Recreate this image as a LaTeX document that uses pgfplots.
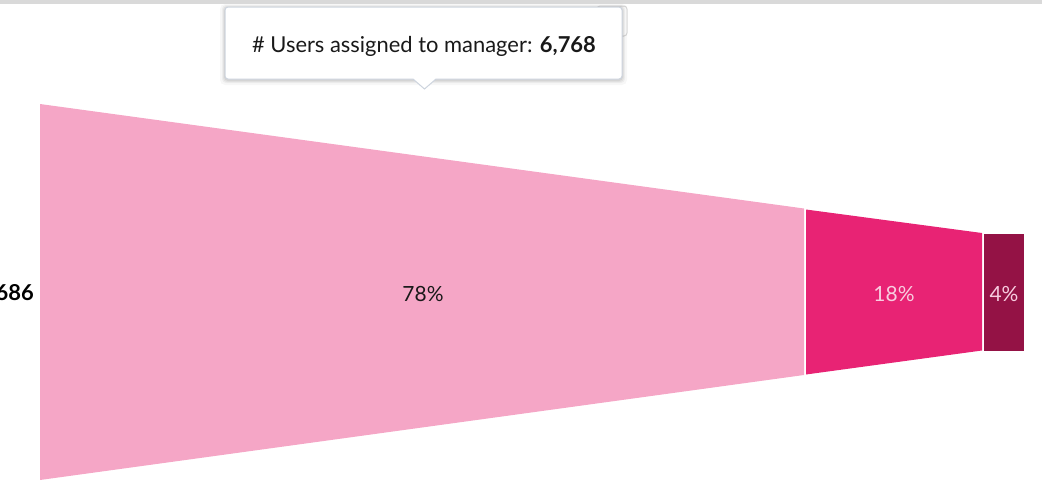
\documentclass[border=0pt]{standalone}
\usepackage{fontspec}
\setmainfont{Lato}
\usepackage{pgfplots}
\pgfplotsset{compat=1.18}
\definecolor{segA}{RGB}{245,166,198}
\definecolor{segB}{RGB}{232,35,116}
\definecolor{segC}{RGB}{148,18,69}
\definecolor{lbl}{RGB}{248,205,224}
\definecolor{tipedge}{RGB}{205,212,222}
\begin{document}
\begin{tikzpicture}
\useasboundingbox (0,0) rectangle (1042bp,492bp);
\clip (0,0) rectangle (1042bp,492bp);
\begin{axis}[at={(0,0)}, anchor=south west, scale only axis, x=1bp, y=1bp, y dir=reverse,
  xmin=0, xmax=1042, ymin=0, ymax=492, hide axis, clip=false]
% funnel segments
\addplot[fill=segA, draw=none] coordinates {(40,104) (804,208.5) (804,375) (40,480)} -- cycle;
\addplot[fill=segB, draw=none] coordinates {(806,209.5) (982,233) (982,350.5) (806,374.5)} -- cycle;
\addplot[fill=segC, draw=none] coordinates {(984,234) (1024,234) (1024,350.5) (984,350.5)} -- cycle;
% labels
\node[font=\fontsize{21}{24}\selectfont, text=black!90] at (axis cs:423,294) {78\%};
\node[font=\fontsize{21}{24}\selectfont, text=lbl] at (axis cs:894,294) {18\%};
\node[font=\fontsize{21}{24}\selectfont, text=lbl] at (axis cs:1004,294) {4\%};
\node[anchor=east, font=\fontsize{22}{24}\selectfont\bfseries, inner sep=0pt] at (axis cs:34,294) {8,686};
% top browser line
\fill[gray!30] (axis cs:0,0) rectangle (axis cs:1042,4);
% small button behind tooltip
\draw[gray!30, fill=white, rounded corners=3bp, line width=1bp] (axis cs:597,6) rectangle (axis cs:627,36);
\node[text=gray!30, font=\fontsize{12}{12}\selectfont] at (axis cs:612,16) {...};
% tooltip shadow
\fill[black, opacity=0.03, rounded corners=5bp] (axis cs:220,4) rectangle (axis cs:627,85);
\fill[black, opacity=0.04, rounded corners=4bp] (axis cs:222,5) rectangle (axis cs:625,83);
\fill[black, opacity=0.05, rounded corners=4bp] (axis cs:223,6) rectangle (axis cs:624,82);
\fill[black, opacity=0.06, rounded corners=4bp] (axis cs:224,7) rectangle (axis cs:623,81);
% tooltip body
\draw[fill=white, draw=tipedge, line width=1bp]
  (axis cs:436,79) [rounded corners=3bp] -- (axis cs:622,79) -- (axis cs:622,7) -- (axis cs:225,7) -- (axis cs:225,79) [sharp corners] -- (axis cs:413,79) -- (axis cs:424.5,89) -- cycle;
\node[font=\fontsize{22}{24}\selectfont, text=black!90] at (axis cs:424,46) {\# Users assigned to manager: \textbf{6,768}};
\end{axis}
\end{tikzpicture}
\end{document}
